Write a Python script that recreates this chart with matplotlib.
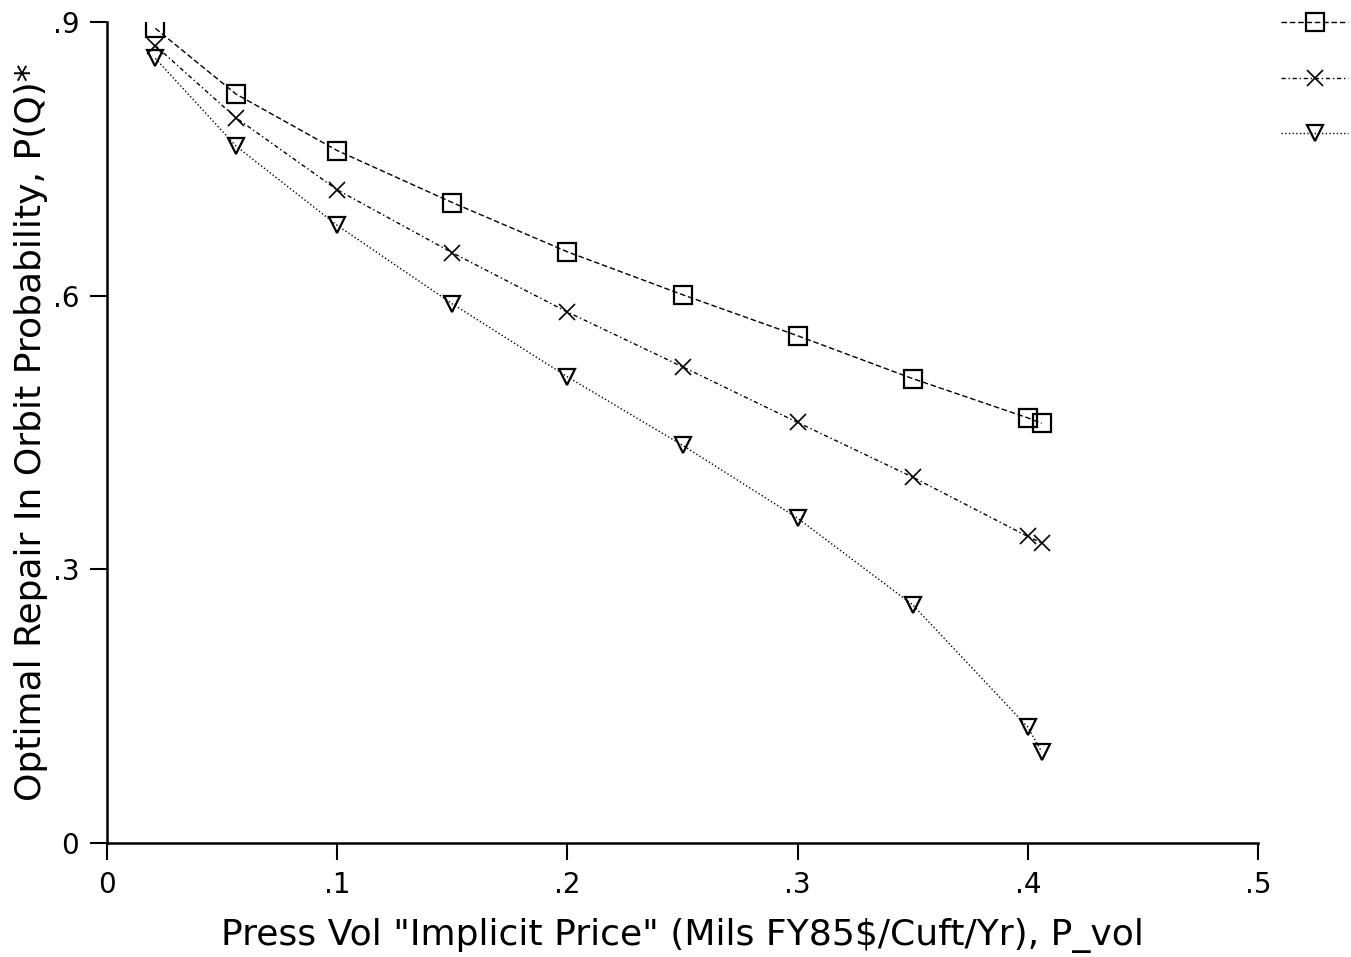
import matplotlib
matplotlib.use("Agg")
import matplotlib.pyplot as plt

# press vol implicit price (x) and optimal repair-in-orbit probability (y)
price = [0.021, 0.056, 0.10, 0.15, 0.20, 0.25, 0.30, 0.35, 0.40, 0.406]
prob_square = [0.893, 0.821, 0.759, 0.702, 0.648, 0.601, 0.556, 0.509, 0.466, 0.460]
prob_star = [0.874, 0.795, 0.716, 0.647, 0.582, 0.522, 0.461, 0.401, 0.336, 0.329]
prob_tri = [0.860, 0.764, 0.677, 0.591, 0.511, 0.436, 0.356, 0.261, 0.127, 0.100]

xticks = [0, 0.1, 0.2, 0.3, 0.4, 0.5]
xticklabels = ["0", ".1", ".2", ".3", ".4", ".5"]
yticks = [0, 0.3, 0.6, 0.9]
yticklabels = ["0", ".3", ".6", ".9"]

plt.rcParams['font.family'] = ['DejaVu Sans']
fig = plt.figure(figsize=(13.51, 9.57), dpi=100)
ax = fig.add_axes([0.0792, 0.1191, 0.852, 0.858])

l1, = ax.plot(price, prob_square, color='black', lw=1.0, ls=(0, (4, 2)),
              marker='s', ms=13, mfc='none', mec='black', mew=1.6)
l2, = ax.plot(price, prob_star, color='black', lw=1.0, ls=(0, (3, 2, 1, 2)),
              marker='x', ms=11, mec='black', mew=1.2)
l3, = ax.plot(price, prob_tri, color='black', lw=1.0, ls=':',
              marker='v', ms=12, mfc='none', mec='black', mew=1.6)

ax.set_xlim(0, 0.5)
ax.set_ylim(0, 0.9)
ax.set_xticks(xticks)
ax.set_xticklabels(xticklabels)
ax.set_yticks(yticks)
ax.set_yticklabels(yticklabels)
ax.tick_params(axis='both', direction='out', length=12, width=1.5,
               labelsize=20, pad=8, colors='black')
for side in ['top', 'right']:
    ax.spines[side].set_visible(False)
for side in ['left', 'bottom']:
    ax.spines[side].set_linewidth(1.8)

ax.set_xlabel('Press Vol "Implicit Price" (Mils FY85$/Cuft/Yr), P_vol',
              fontsize=26, labelpad=14)
ax.set_ylabel('Optimal Repair In Orbit Probability, P(Q)*', fontsize=26,
              labelpad=3)

fig.legend([l1, l2, l3], ['', '', ''], loc='upper right',
           bbox_to_anchor=(1.006, 1.0016), frameon=False, fontsize=20,
           handlelength=2.4, labelspacing=1.0, handletextpad=0,
           borderaxespad=0.0)

fig.savefig('out.png', dpi=100)
